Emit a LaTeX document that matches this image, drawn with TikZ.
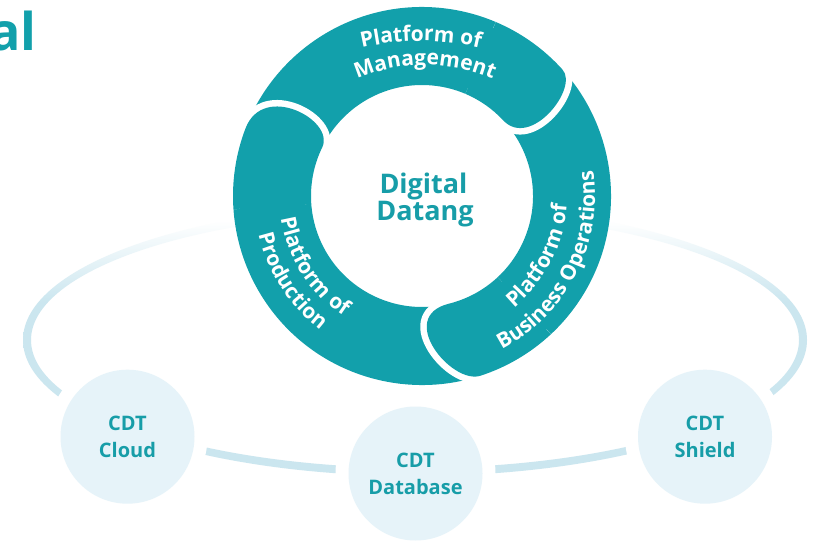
\documentclass[tikz,border=0pt]{standalone}
\usepackage{fontspec}
\setmainfont{Open Sans}
\usetikzlibrary{calc,decorations.text}
\definecolor{ringc}{HTML}{12A0AB}
\definecolor{tealtxt}{HTML}{179DA8}
\definecolor{cfill}{HTML}{E6F3F9}
\definecolor{ellc}{HTML}{CBE6EF}
\pgfdeclareverticalshading{ellshade}{100bp}{color(0bp)=(ellc); color(25bp)=(ellc); color(57bp)=(ellc); color(72bp)=(white); color(100bp)=(white)}
\newcommand\ringfont{\bfseries\fontsize{21}{25}\selectfont}
\def\ringRo{189}
\def\ringRi{111}
% #1 start angle, #2 outer end angle, #3 inner end angle, #4 outer bulge, #5 inner bulge
\newcommand\segbody[5]{%
  \fill[ringc] ($(C)+(#1:\ringRo)$) arc[start angle=#1, end angle=#2, radius=\ringRo]
    .. controls ($(C)+(#2:\ringRo)+(#2-90:#4)$) and ($(C)+(#3:\ringRi)+(#3-90:#5)$) .. ($(C)+(#3:\ringRi)$)
    arc[start angle=#3, end angle=#1, radius=\ringRi] -- cycle;}
\newcommand\segcap[5]{%
  \path[fill=ringc, preaction={draw=white, line width=13pt}] ($(C)+(#2+25:\ringRo)$) arc[start angle=#2+25, end angle=#2, radius=\ringRo]
    .. controls ($(C)+(#2:\ringRo)+(#2-90:#4)$) and ($(C)+(#3:\ringRi)+(#3-90:#5)$) .. ($(C)+(#3:\ringRi)$)
    arc[start angle=#3, end angle=#2+25, radius=\ringRi];}
\tikzset{
  cdt/.style={circle, fill=cfill, minimum size=134pt, inner sep=0pt, align=center, text=tealtxt,
    font=\bfseries\fontsize{20}{27}\selectfont, preaction={draw=white, line width=26pt}},
  ringtext/.style={decorate, decoration={text along path, text={|\ringfont|#1}, text align=center, text color=white}},
  bigtext/.style={anchor=base, inner sep=0pt, text=tealtxt, font=\bfseries\fontsize{27}{27}\selectfont}
}
\begin{document}
\begin{tikzpicture}[x=1pt,y=1pt]
\useasboundingbox (0,0) rectangle (824,542);
\fill[white] (0,0) rectangle (824,542);
\coordinate (C) at (422,346);
% orbit ellipse
\shade[shading=ellshade, even odd rule] (415,202) ellipse [x radius=392, y radius=136] (415,202) ellipse [x radius=384, y radius=128];
% CDT circles
\node[cdt] (cloud) at (127.5,105.3) {CDT\\Cloud};
\node[cdt] (database) at (415.5,68.5) {CDT\\Database};
\node[cdt] (shield) at (705,105.3) {CDT\\Shield};
% ring bodies
\segbody{171}{42}{43}{25}{40}
\segbody{55}{-72}{-76}{30}{55}
\segbody{-60}{-201}{-206}{50}{30}
% ring caps
\segcap{171}{42}{43}{25}{40}
\segcap{55}{-72}{-76}{30}{55}
\segcap{-60}{-201}{-206}{50}{30}
% ring texts
\path[ringtext={Platform of}] ($(421,241)+(120:260)$) arc[start angle=120, end angle=60, radius=260];
\path[ringtext={Management}] ($(425,307)+(135:170)$) arc[start angle=135, end angle=45, radius=170];
\path[ringtext={Platform of}] ($(C)+(153:143)$) arc[start angle=153, end angle=273, radius=143];
\path[ringtext={Production}] ($(C)+(153:168)$) arc[start angle=153, end angle=273, radius=168];
\path[ringtext={Platform of}] ($(C)+(-87:145)$) arc[start angle=-87, end angle=33, radius=145];
\path[ringtext={Business Operations}] ($(C)+(-100:173)$) arc[start angle=-100, end angle=46, radius=173];
% centre
\node[bigtext] (dig) at (423.5,349) {Digital};
\node[bigtext] (dat) at (425,322) {Datang};
% title fragment
\node[anchor=base east, inner sep=0pt, text=ringc, font=\bfseries\fontsize{52}{60}\selectfont] (title) at (36.5,491) {al};
\end{tikzpicture}
\end{document}
